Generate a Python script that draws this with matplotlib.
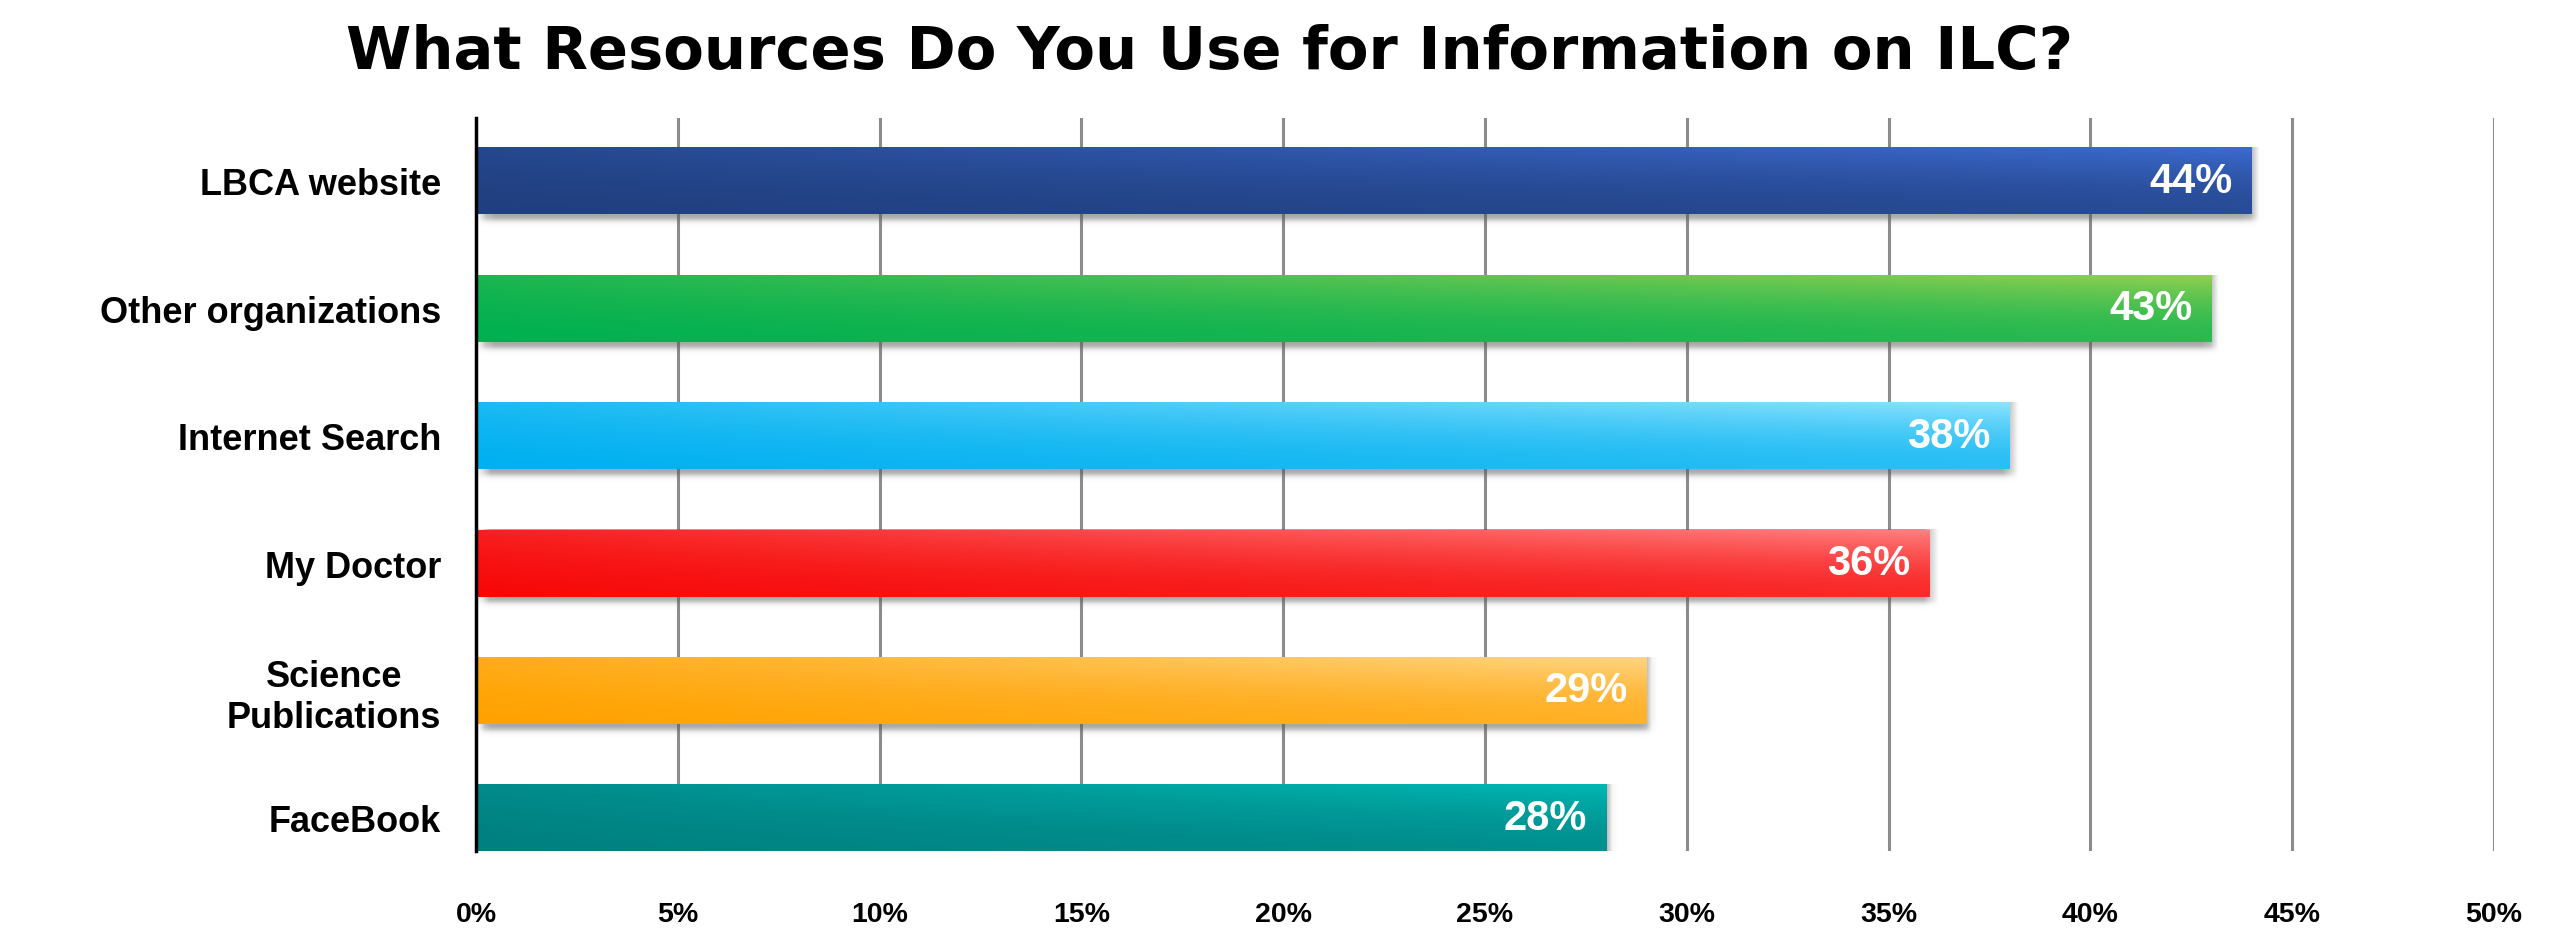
import numpy as np
import matplotlib
matplotlib.use("Agg")
import matplotlib.pyplot as plt
from matplotlib.colors import to_rgb

# data
categories = ["LBCA website", "Other organizations", "Internet Search",
              "My Doctor", "Science\nPublications", "FaceBook"]
values = [44, 43, 38, 36, 29, 28]
base_colors = ["#203f7f", "#00b050", "#00b0f0", "#f70808", "#ffa200", "#008080"]
light_colors = ["#3c6bd0", "#92d050", "#8ee3ff", "#ff8080", "#ffd585", "#00b8b4"]
xticks = [0, 5, 10, 15, 20, 25, 30, 35, 40, 45, 50]
xtick_labels = [f"{t}%" for t in xticks]
title = "What Resources Do You Use for Information on ILC?"

label_font = "Liberation Sans"

fig = plt.figure(figsize=(25.63, 9.29), dpi=100)
ax = fig.add_axes([0.1857, 0.0829, 0.9731 - 0.1857, 0.8719 - 0.0829])

bar_h = 0.525
ypos = np.arange(len(categories))

# grid
for t in xticks[1:]:
    ax.axvline(t, color="#8c8c8c", lw=2.2, zorder=0)

# shadows + gradient bars
nx, ny = 300, 80
u = np.linspace(0, 1, nx)[None, :]
v = np.linspace(0, 1, ny)[:, None]
w = (1 - v) ** 1.5 * (0.2 + 0.8 * u) + 0.3 * u * v
w = np.clip(w, 0, 1)[..., None]

for y, val, c0, c1 in zip(ypos, values, base_colors, light_colors):
    # soft shadow under bar
    sx = np.linspace(-0.3, val + 0.5, 200)[None, :]
    sy = np.linspace(y - bar_h / 2, y + bar_h / 2 + 0.14, 60)[:, None]
    ax_x = 0.5 * (1 + np.tanh((sx - 0.1) / 0.08)) * 0.5 * (1 - np.tanh((sx - (val + 0.12)) / 0.08))
    ax_y = 0.5 * (1 - np.tanh((sy - (y + bar_h / 2 + 0.05)) / 0.025))
    shadow = np.zeros((60, 200, 4))
    shadow[..., :3] = 0.35
    shadow[..., 3] = 0.55 * ax_x * ax_y
    ax.imshow(shadow, extent=(-0.3, val + 0.5, y + bar_h / 2 + 0.14, y - bar_h / 2),
              origin="upper", aspect="auto", zorder=1, interpolation="bilinear")

    bar = ax.barh(y, val, height=bar_h, color=c0, zorder=2)[0]
    a = np.array(to_rgb(c0))
    b = np.array(to_rgb(c1))
    img = a * (1 - w) + b * w
    im = ax.imshow(img, extent=(0, val, y + bar_h / 2, y - bar_h / 2),
                   origin="upper", aspect="auto", zorder=3, interpolation="bilinear")
    im.set_clip_path(bar)

    ax.text(val - 0.47, y, f"{val}%", ha="right", va="center", color="white",
            fontsize=30, fontweight="bold", family=label_font, zorder=4)

ax.set_xlim(0, 50)
ax.set_ylim(5.26, -0.494)

ax.set_yticks(ypos)
ax.set_yticklabels(categories, fontsize=26, fontweight="bold", family=label_font,
                   multialignment="center")
ax.set_xticks(xticks)
ax.set_xticklabels(xtick_labels, fontsize=20.5, fontweight="bold", family=label_font)
ax.tick_params(axis="y", length=0, pad=25)
ax.tick_params(axis="x", length=0, pad=36)

for s in ["top", "right", "bottom"]:
    ax.spines[s].set_visible(False)
ax.spines["left"].set_linewidth(2.5)
ax.spines["left"].set_color("black")
ax.spines["left"].set_zorder(5)

fig.text(1210 / 2563, 1 - 52 / 929, title, ha="center", va="center",
         fontsize=42.7, fontweight="bold", family="DejaVu Sans")

fig.savefig("out.png", dpi=100)
